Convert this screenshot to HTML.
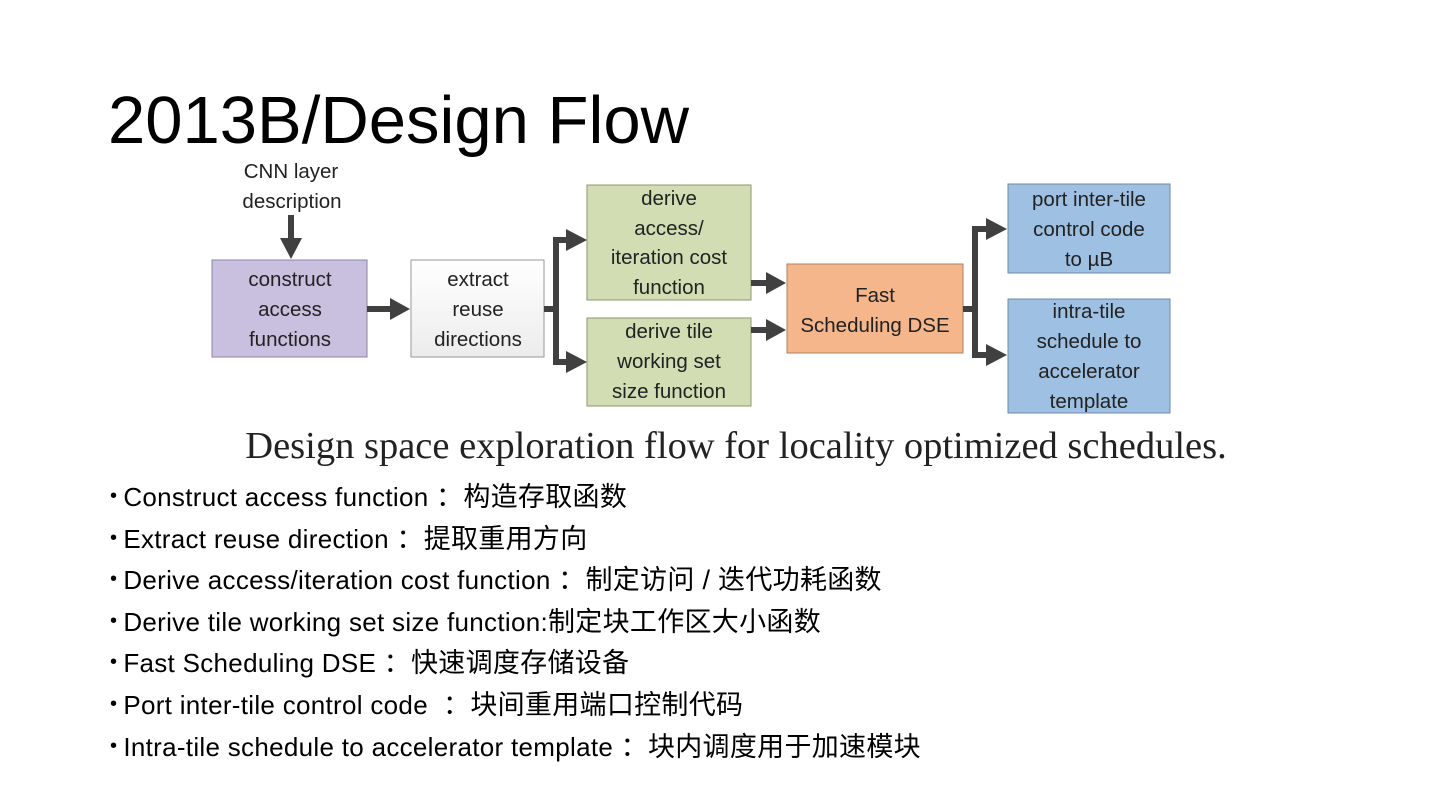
<!DOCTYPE html>
<html><head><meta charset="utf-8"><style>
body{margin:0;width:1440px;height:810px;background:#fff;overflow:hidden;position:relative;font-family:"Liberation Sans","Noto Sans CJK SC",sans-serif;}
.title{position:absolute;left:108px;top:82px;font-size:67px;color:#000;white-space:nowrap;}
.cap{position:absolute;left:0;width:1472px;text-align:center;top:424px;font-family:"Liberation Serif",serif;font-size:38.5px;color:#222;}
ul{position:absolute;left:110px;top:478px;margin:0;padding:0;list-style:none;}
li{font-size:26px;height:41.6px;line-height:38px;color:#000;white-space:nowrap;letter-spacing:0.3px;}
li:before{content:"•";font-size:20px;margin-right:6px;position:relative;top:-4px;}
.z{font-size:27px;}
</style></head><body>
<div class="title">2013B/Design Flow</div>
<svg width="1440" height="430" style="position:absolute;left:0;top:0" font-family="Liberation Sans, sans-serif" font-size="20.5" fill="#222">
<defs><linearGradient id="w" x1="0" y1="0" x2="0" y2="1"><stop offset="0" stop-color="#fff"/><stop offset="1" stop-color="#ececec"/></linearGradient></defs>
<g text-anchor="middle">
<text x="291" y="178">CNN layer</text><text x="292" y="208">description</text>
<rect x="212" y="260" width="155" height="97" fill="#c8c0de" stroke="#8a84a4"/>
<text x="290" y="286">construct</text><text x="290" y="316">access</text><text x="290" y="346">functions</text>
<rect x="411" y="260" width="133" height="97" fill="url(#w)" stroke="#999"/>
<text x="478" y="286">extract</text><text x="478" y="316">reuse</text><text x="478" y="346">directions</text>
<rect x="587" y="185" width="164" height="115" fill="#d2ddb4" stroke="#8a9870"/>
<text x="669" y="205">derive</text><text x="669" y="235">access/</text><text x="669" y="264">iteration cost</text><text x="669" y="294">function</text>
<rect x="587" y="318" width="164" height="88" fill="#d2ddb4" stroke="#8a9870"/>
<text x="669" y="338">derive tile</text><text x="669" y="368">working set</text><text x="669" y="398">size function</text>
<rect x="787" y="264" width="176" height="89" fill="#f4b68a" stroke="#b08060"/>
<text x="875" y="302">Fast</text><text x="875" y="332">Scheduling DSE</text>
<rect x="1008" y="184" width="162" height="89" fill="#9ec0e2" stroke="#6f8aa8"/>
<text x="1089" y="206">port inter-tile</text><text x="1089" y="236">control code</text><text x="1089" y="266">to µB</text>
<rect x="1008" y="299" width="162" height="114" fill="#9ec0e2" stroke="#6f8aa8"/>
<text x="1089" y="318">intra-tile</text><text x="1089" y="348">schedule to</text><text x="1089" y="378">accelerator</text><text x="1089" y="408">template</text>
</g>
<g stroke="#404040" stroke-width="6" fill="none">
<line x1="291" y1="215" x2="291" y2="240"/>
<line x1="367" y1="309" x2="392" y2="309"/>
<line x1="544" y1="309" x2="556" y2="309"/>
<polyline points="568,240 556,240 556,362 568,362"/>
<line x1="751" y1="283" x2="768" y2="283"/>
<line x1="751" y1="330" x2="768" y2="330"/>
<line x1="963" y1="309" x2="975" y2="309"/>
<polyline points="988,229 975,229 975,355 988,355"/>
</g>
<g fill="#404040">
<polygon points="280,238 302,238 291,259"/>
<polygon points="390,298 410,309 390,320"/>
<polygon points="566,229 587,240 566,251"/>
<polygon points="566,351 587,362 566,373"/>
<polygon points="766,272 786,283 766,294"/>
<polygon points="766,319 786,330 766,341"/>
<polygon points="986,218 1007,229 986,240"/>
<polygon points="986,344 1007,355 986,366"/>
</g>
</svg>
<div class="cap">Design space exploration flow for locality optimized schedules.</div>
<ul>
<li>Construct access function <span class="z">：构造存取函数</span></li>
<li>Extract reuse direction <span class="z">：提取重用方向</span></li>
<li>Derive access/iteration cost function <span class="z">：制定访问 / 迭代功耗函数</span></li>
<li>Derive tile working set size function:<span class="z">制定块工作区大小函数</span></li>
<li>Fast Scheduling DSE <span class="z">：快速调度存储设备</span></li>
<li>Port inter-tile control code &nbsp;<span class="z">：块间重用端口控制代码</span></li>
<li>Intra-tile schedule to accelerator template <span class="z">：块内调度用于加速模块</span></li>
</ul>
</body></html>
